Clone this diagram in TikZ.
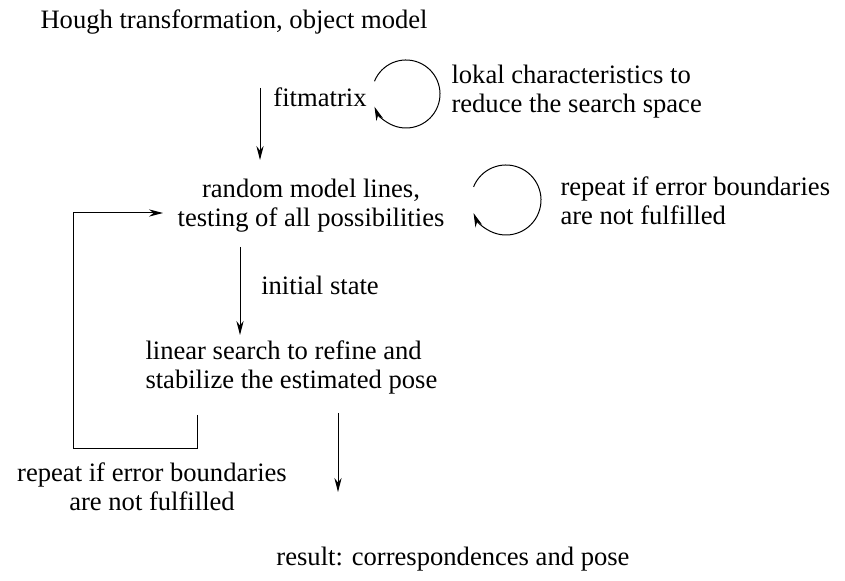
\documentclass[tikz,border=0pt]{standalone}
\usepackage{fontspec}
\setmainfont{Liberation Serif}
\usetikzlibrary{arrows.meta, positioning, calc}

\begin{document}
\begin{tikzpicture}[
    x=0.5pt, y=-0.5pt,
    >={Stealth[length=7pt, width=3.6pt]},
    line width=0.5pt,
    every node/.style={font=\fontsize{13.3}{14.5}\selectfont, inner sep=0pt},
    lefttext/.style={align=left, anchor=west},
    midtext/.style={align=center},
    loop/.style={->},
  ]

  % Frame
  \useasboundingbox (0,0) rectangle (845,581);

  % === Texts ===
  \node[lefttext] (hough) at (40,22) {Hough transformation, object model};
  \node[midtext] (fit) at (320,97) {fitmatrix};
  \node[lefttext] (lokal) at (451,92)
    {lokal characteristics to\\reduce the search space};
  \node[midtext] (random) at (311,206)
    {random model lines,\\testing of all possibilities};
  \node[lefttext] (repeatR) at (560,201)
    {repeat if error boundaries\\are not fulfilled};
  \node[midtext] (init) at (320,285) {initial state};
  \node[lefttext] (linear) at (145,367)
    {linear search to refine and\\stabilize the estimated pose};
  \node[midtext] (repeatL) at (152,487)
    {repeat if error boundaries\\are not fulfilled};
  \node[midtext] (result) at (453,559) {result: correspondences and pose};

  % === Arrow ends ===
  \coordinate (fitA) at (260,88);
  \coordinate (fitB) at (260,160);
  \coordinate (initA) at (240,247);
  \coordinate (initB) at (240,335);
  \coordinate (resA) at (338,413);
  \coordinate (resB) at (338,492);
  \coordinate (backA) at (197,415);
  \coordinate (backB) at (163,213);
  \coordinate (loopA) at (406,94);
  \coordinate (loopB) at (506,200);

  % === Straight arrows ===
  \draw[->] (fitA) -- (fitB);
  \draw[->] (initA) -- (initB);
  \draw[->] (resA) -- (resB);

  % === Feedback line ===
  \draw[->] (backA) |- (73,449) |- (backB);

  % === Loops ===
  \draw[loop] (loopA) ++(158:17pt) arc[start angle=158, end angle=-158, radius=17pt];
  \draw[loop] (loopB) ++(158:17.5pt) arc[start angle=158, end angle=-158, radius=17.5pt];

\end{tikzpicture}
\end{document}
